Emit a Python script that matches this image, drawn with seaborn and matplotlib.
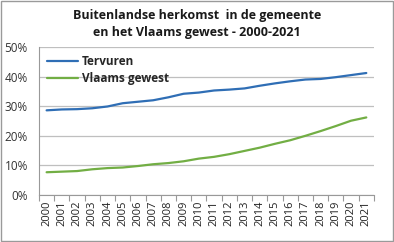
import matplotlib
matplotlib.use("Agg")
import matplotlib.pyplot as plt
import seaborn as sns
import pandas as pd
from matplotlib.ticker import FuncFormatter, FixedLocator

years = [str(y) for y in range(2000, 2022)]
tervuren = [28.6, 28.9, 29.0, 29.3, 29.9, 31.0, 31.5, 32.0, 33.0, 34.2, 34.6,
            35.3, 35.6, 36.0, 36.9, 37.7, 38.4, 39.0, 39.2, 39.8, 40.5, 41.2]
vlaams = [7.7, 7.9, 8.1, 8.7, 9.1, 9.3, 9.8, 10.4, 10.8, 11.4, 12.3,
          12.9, 13.8, 14.9, 16.0, 17.3, 18.5, 20.0, 21.6, 23.3, 25.1, 26.2]
series_names = ["Tervuren", "Vlaams gewest"]
colors = ["#2F6EB5", "#72AE44"]

df = pd.DataFrame({
    "year": years * 2,
    "pos": list(range(len(years))) * 2,
    "value": tervuren + vlaams,
    "series": [series_names[0]] * len(years) + [series_names[1]] * len(years),
})

sns.set_style("white")
plt.rcParams["font.family"] = ["Open Sans", "DejaVu Sans"]

fig = plt.figure(figsize=(3.94, 2.42), dpi=100)
ax = fig.add_axes([0.099, 0.194, 0.850, 0.612])

sns.lineplot(data=df, x="pos", y="value", hue="series", palette=colors,
             linewidth=1.6, ax=ax, legend=True)

ax.set_xlim(-0.5, len(years) - 0.5)
ax.set_ylim(0, 50)
ax.set_yticks([0, 10, 20, 30, 40, 50])
ax.yaxis.set_major_formatter(FuncFormatter(lambda v, p: f"{int(v)}%"))
ax.grid(axis="y", color="#BFBFBF", linewidth=0.9)
ax.set_axisbelow(True)

ax.set_xticks(range(len(years)))
ax.set_xticklabels(years, rotation=90, fontsize=8, color="#222222")
ax.xaxis.set_minor_locator(FixedLocator([i - 0.5 for i in range(len(years) + 1)]))
ax.tick_params(axis="x", which="major", length=0, pad=4)
ax.tick_params(axis="x", which="minor", length=4, color="#999999", width=0.8, bottom=True)
ax.tick_params(axis="y", length=0, labelsize=8.5, colors="#333333", pad=8)

for s in ["top", "right"]:
    ax.spines[s].set_visible(False)
for s in ["left", "bottom"]:
    ax.spines[s].set_color("#999999")
    ax.spines[s].set_linewidth(0.8)

ax.set_xlabel("")
ax.set_ylabel("")

leg = ax.legend(loc="upper left", bbox_to_anchor=(0.0, 1.0), frameon=False,
                prop={"weight": "bold", "size": 8.5}, handlelength=2.6,
                handletextpad=0.3, labelspacing=0.35, borderaxespad=0.3)

fig.text(0.5, 0.935, "Buitenlandse herkomst  in de gemeente", ha="center",
         va="center", fontsize=9, fontweight="bold", color="#1a1a1a")
fig.text(0.5, 0.865, "en het Vlaams gewest - 2000-2021", ha="center",
         va="center", fontsize=9, fontweight="bold", color="#1a1a1a")

border = plt.Rectangle((0.002, 0.003), 0.995, 0.993, transform=fig.transFigure,
                       fill=False, edgecolor="#9a9a9a", linewidth=1.0)
fig.patches.append(border)

fig.savefig("out.png", dpi=100)
